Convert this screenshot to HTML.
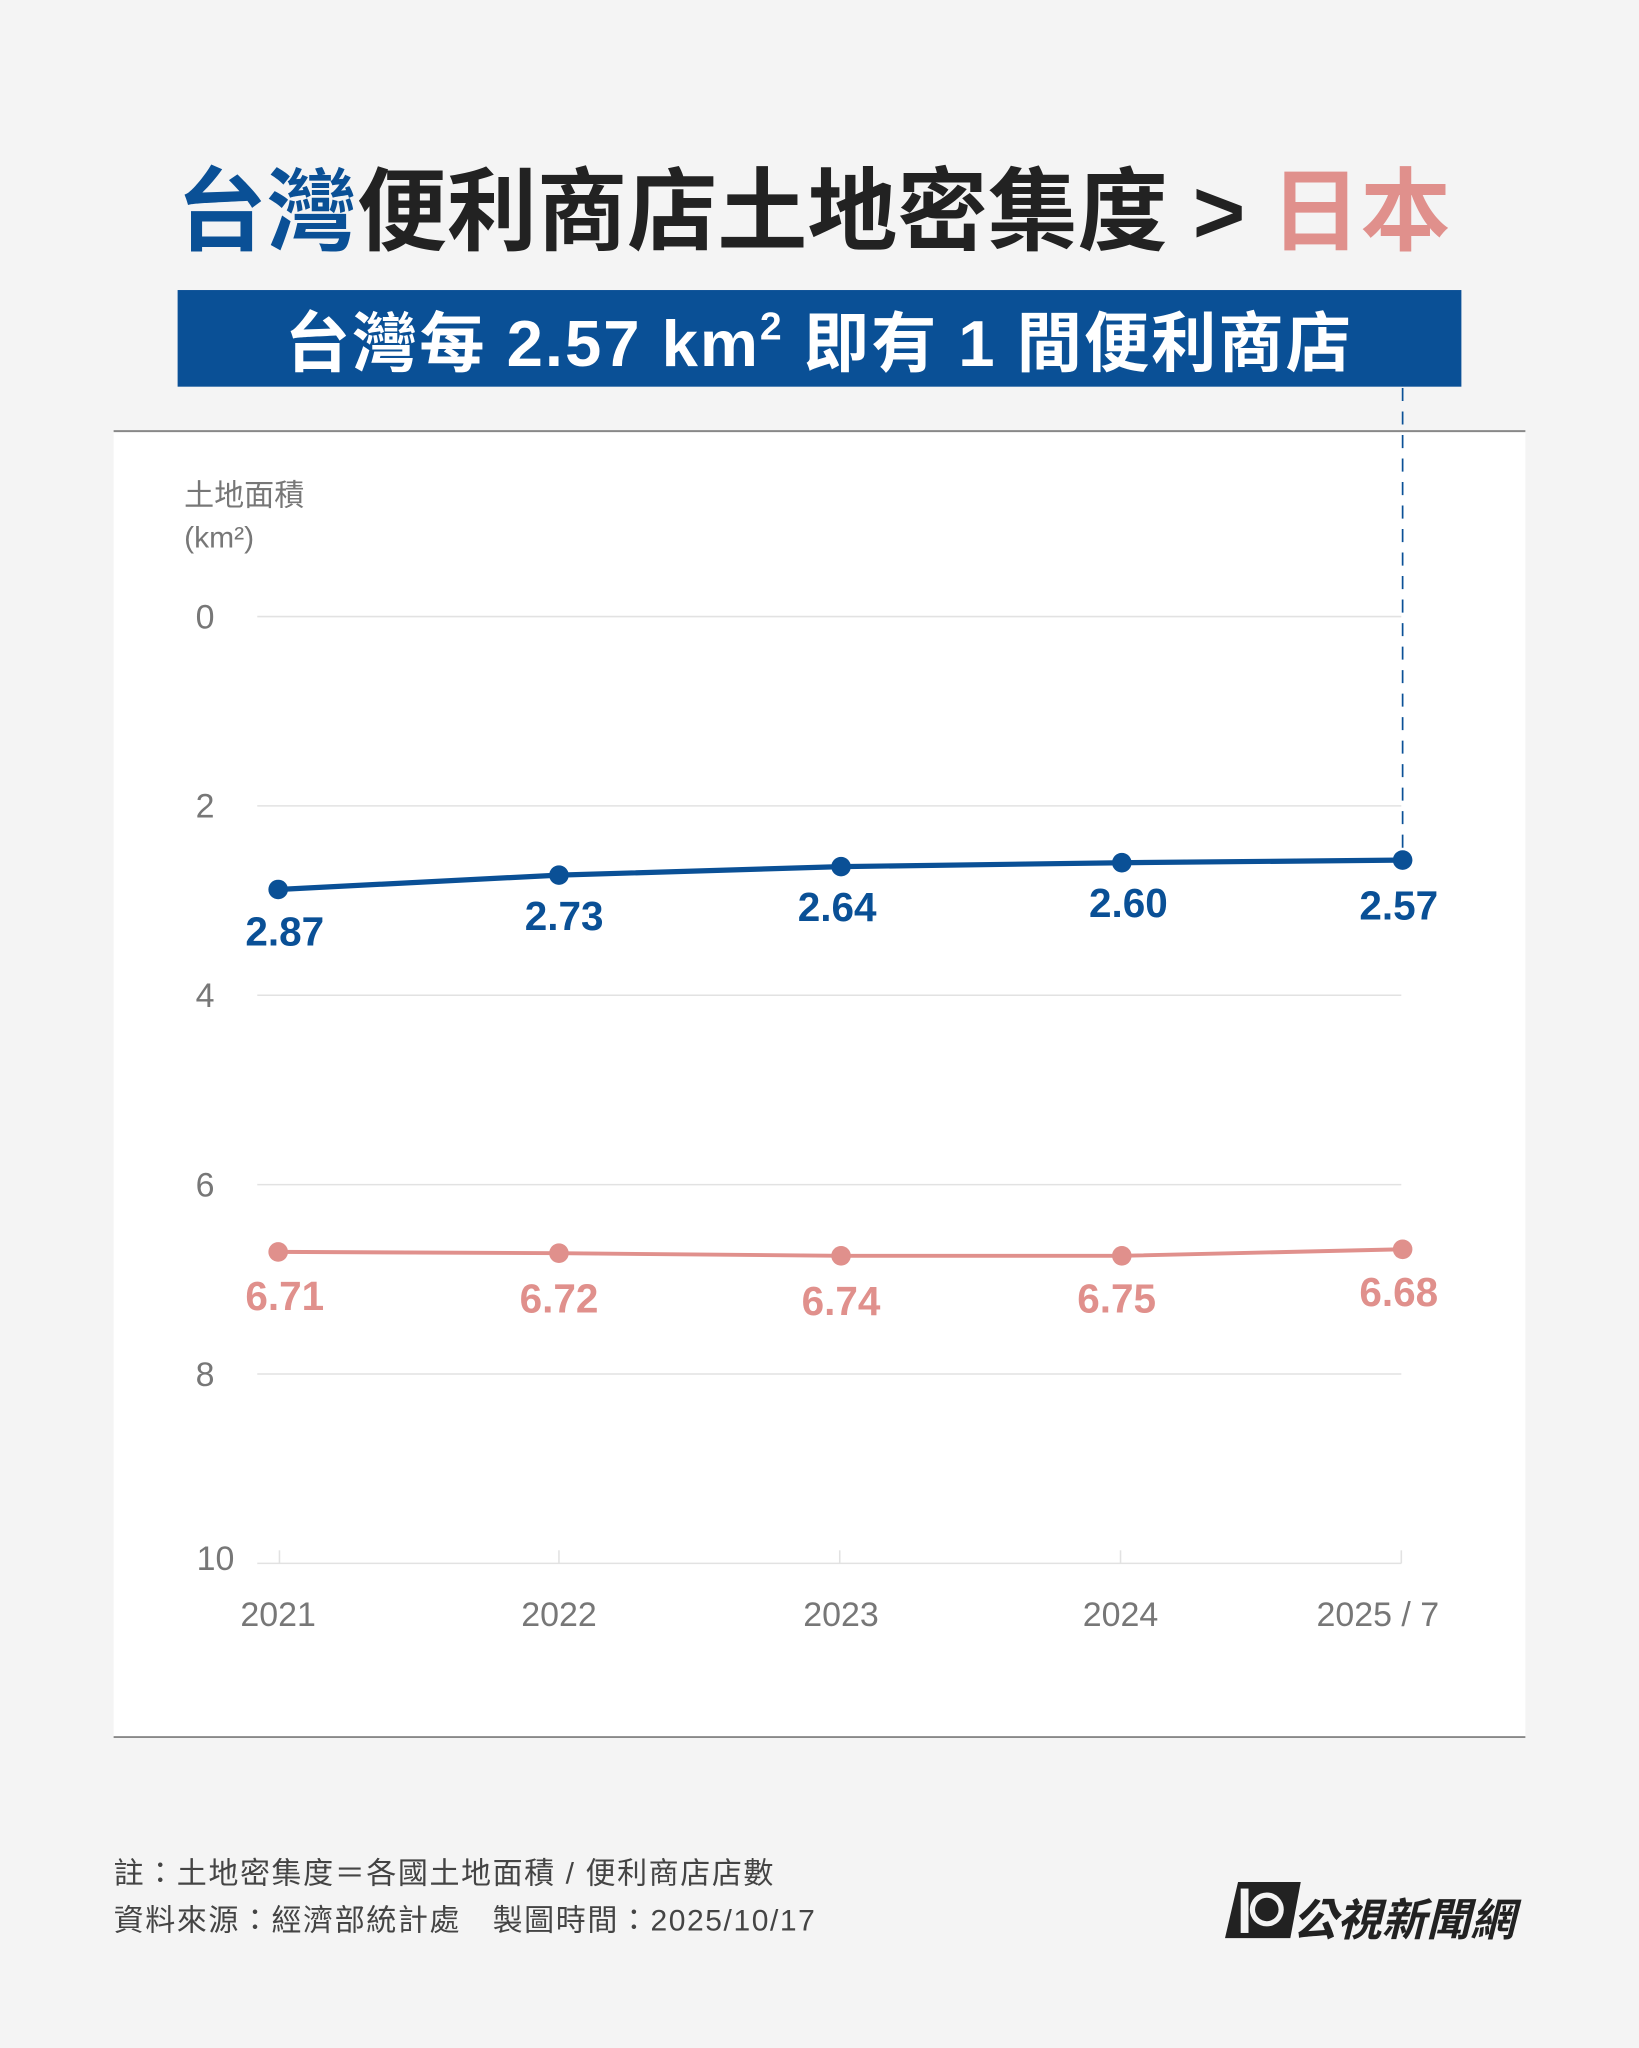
<!DOCTYPE html>
<html><head><meta charset="utf-8"><style>
html,body{margin:0;padding:0;background:#f4f4f4;}
svg{display:block;}
text{font-family:"Liberation Sans","Noto Sans CJK TC",sans-serif;}
</style></head><body>
<svg width="1639" height="2048" viewBox="0 0 1255 1568" xmlns="http://www.w3.org/2000/svg">
<rect x="0" y="0" width="1255" height="1568" fill="#f4f4f4"/>
<text x="623" y="186" text-anchor="middle" font-size="69" font-weight="bold" fill="#222"><tspan fill="#0a5096">台灣</tspan>便利商店土地密集度 &gt; <tspan fill="#e0908c">日本</tspan></text>
<rect x="136" y="222" width="983" height="74" fill="#0a5096"/>
<text x="627" y="280" text-anchor="middle" font-size="50" font-weight="bold" fill="#fff" letter-spacing="1.5">台灣每 2.57 km<tspan font-size="30" dy="-20">2</tspan><tspan dy="20"> 即有 1 間便利商店</tspan></text>
<rect x="87" y="330" width="1081" height="1000" fill="#fff"/>
<line x1="87" y1="330" x2="1168" y2="330" stroke="#888" stroke-width="1.5"/>
<line x1="87" y1="1330" x2="1168" y2="1330" stroke="#888" stroke-width="1.5"/>
<g stroke="#e2e2e2" stroke-width="1.2">
<line x1="197" y1="472" x2="1073" y2="472"/>
<line x1="197" y1="617" x2="1073" y2="617"/>
<line x1="197" y1="762" x2="1073" y2="762"/>
<line x1="197" y1="907" x2="1073" y2="907"/>
<line x1="197" y1="1052" x2="1073" y2="1052"/>
<line x1="197" y1="1197" x2="1073" y2="1197"/>
<line x1="214" y1="1187" x2="214" y2="1197"/><line x1="428" y1="1187" x2="428" y2="1197"/><line x1="643" y1="1187" x2="643" y2="1197"/><line x1="858" y1="1187" x2="858" y2="1197"/><line x1="1073" y1="1187" x2="1073" y2="1197"/>
</g>
<g font-size="26" fill="#777">
<text x="141" y="387" font-size="23">土地面積</text>
<text x="141" y="419" font-size="23">(km²)</text>
<text x="157" y="481" text-anchor="middle">0</text>
<text x="157" y="626" text-anchor="middle">2</text>
<text x="157" y="771" text-anchor="middle">4</text>
<text x="157" y="916" text-anchor="middle">6</text>
<text x="157" y="1061" text-anchor="middle">8</text>
<text x="165" y="1202" text-anchor="middle">10</text>
<text x="213" y="1245" text-anchor="middle">2021</text>
<text x="428" y="1245" text-anchor="middle">2022</text>
<text x="644" y="1245" text-anchor="middle">2023</text>
<text x="858" y="1245" text-anchor="middle">2024</text>
<text x="1055" y="1245" text-anchor="middle">2025 / 7</text>
</g>
<line x1="1074" y1="297" x2="1074" y2="655" stroke="#0a5096" stroke-width="1.3" stroke-dasharray="10,8"/>
<polyline points="213,681 428,670 644,663.5 859,660.5 1074,658.5" fill="none" stroke="#0a5096" stroke-width="4"/>
<g fill="#0a5096"><circle cx="213" cy="681" r="7.5"/><circle cx="428" cy="670" r="7.5"/><circle cx="644" cy="663.5" r="7.5"/><circle cx="859" cy="660.5" r="7.5"/><circle cx="1074" cy="658.5" r="7.5"/></g>
<polyline points="213,958.5 428,959.5 644,961.5 859,961.5 1074,956.5" fill="none" stroke="#e0908c" stroke-width="3"/>
<g fill="#e0908c"><circle cx="213" cy="958.5" r="7.5"/><circle cx="428" cy="959.5" r="7.5"/><circle cx="644" cy="961.5" r="7.5"/><circle cx="859" cy="961.5" r="7.5"/><circle cx="1074" cy="956.5" r="7.5"/></g>
<g font-size="31" font-weight="bold" fill="#0a5096" text-anchor="middle">
<text x="218" y="724">2.87</text><text x="432" y="712">2.73</text><text x="641" y="705">2.64</text><text x="864" y="702">2.60</text><text x="1071" y="704">2.57</text>
</g>
<g font-size="31" font-weight="bold" fill="#e0908c" text-anchor="middle">
<text x="218" y="1003">6.71</text><text x="428" y="1005">6.72</text><text x="644" y="1007">6.74</text><text x="855" y="1005">6.75</text><text x="1071" y="1000">6.68</text>
</g>
<g font-size="23" fill="#444" letter-spacing="1.2">
<text x="87" y="1442">註：土地密集度＝各國土地面積 / 便利商店店數</text>
<text x="87" y="1478">資料來源：經濟部統計處　製圖時間：2025/10/17</text>
</g>
<g>
<polygon points="948,1441 996,1441 988,1484 938,1484" fill="#222"/>
<rect x="950" y="1446" width="6" height="34" fill="#f4f4f4"/>
<circle cx="970" cy="1462" r="13" fill="#f4f4f4"/>
<circle cx="970" cy="1462" r="9" fill="#222"/>
<text x="990" y="1482" font-size="34" font-weight="bold" font-style="italic" fill="#222">公視新聞網</text>
</g>
</svg>
</body></html>
